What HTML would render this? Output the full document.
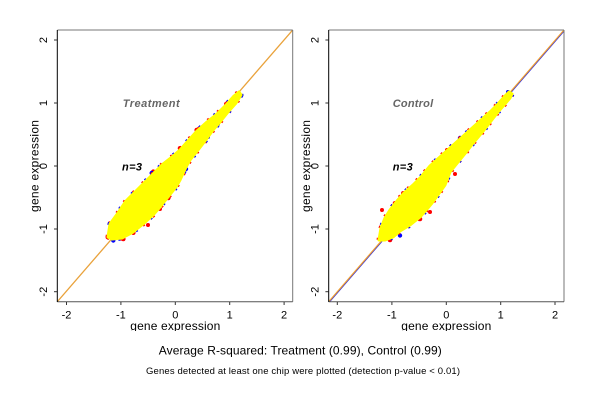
<!DOCTYPE html>
<html>
<head>
<meta charset="utf-8">
<style>
html,body{margin:0;padding:0;background:#fff;}
svg{display:block;}
text{font-family:"Liberation Sans",Arial,sans-serif;}
</style>
</head>
<body>
<svg width="600" height="400" viewBox="0 0 600 400" xmlns="http://www.w3.org/2000/svg">
<defs>
<clipPath id="c1"><rect x="57.5" y="30" width="235" height="271.7"/></clipPath>
<clipPath id="c2"><rect x="328.7" y="30" width="235.3" height="271.7"/></clipPath>
<clipPath id="xl"><rect x="0" y="0" width="600" height="331"/></clipPath>
</defs>
<rect width="600" height="400" fill="#fff"/>

<!-- ===== LEFT PANEL ===== -->
<g clip-path="url(#c1)">
<line x1="57.3" y1="301.7" x2="292.7" y2="30" stroke="#E9A23B" stroke-width="1.3"/>
</g>
<g>
<g fill="#f00">
<circle cx="196.7" cy="130" r="2.3"/><circle cx="180" cy="148.3" r="2.3"/><circle cx="153.3" cy="171.7" r="2.3"/>
<circle cx="168.3" cy="198" r="2.3"/><circle cx="121.7" cy="210" r="2.3"/><circle cx="123.3" cy="239" r="2.3"/>
<circle cx="133.3" cy="232.7" r="2.3"/><circle cx="148" cy="225" r="2"/><circle cx="226" cy="104" r="2"/>
<circle cx="112" cy="225" r="2"/><circle cx="160" cy="209" r="2"/><circle cx="190" cy="144" r="2"/>
</g>
<g fill="#00f">
<circle cx="170" cy="192" r="2.2"/><circle cx="151.7" cy="173" r="2.2"/><circle cx="186" cy="169" r="2.2"/>
<circle cx="113.3" cy="240.5" r="2.2"/><circle cx="208" cy="137" r="2"/><circle cx="236" cy="97" r="2"/>
<circle cx="218" cy="124" r="2"/>
</g>
<polygon fill="none" stroke="#f00" stroke-width="5" stroke-dasharray="2 11" stroke-linejoin="round"
points="108,237 110,224 118,213 126,201 135,192 143,184 153,174 163,164 172,157 180,150 188,141 197,131 207,122 217,114 227,104 234,96 239,92 241,95 236,103 228,112 220,122 213,130 205,141 198,150 190,160 186,167 180,180 176,187 168,197 160,207 153,215 143,224 133,232 122,238 112,239"/>
<polygon fill="none" stroke="#00f" stroke-width="5" stroke-dasharray="2 17" stroke-dashoffset="7" stroke-linejoin="round"
points="108,237 110,224 118,213 126,201 135,192 143,184 153,174 163,164 172,157 180,150 188,141 197,131 207,122 217,114 227,104 234,96 239,92 241,95 236,103 228,112 220,122 213,130 205,141 198,150 190,160 186,167 180,180 176,187 168,197 160,207 153,215 143,224 133,232 122,238 112,239"/>
<polygon fill="#ff0" stroke="#ff0" stroke-width="3" stroke-linejoin="round"
points="108,237 110,224 118,213 126,201 135,192 143,184 153,174 163,164 172,157 180,150 188,141 197,131 207,122 217,114 227,104 234,96 239,92 241,95 236,103 228,112 220,122 213,130 205,141 198,150 190,160 186,167 180,180 176,187 168,197 160,207 153,215 143,224 133,232 122,238 112,239"/>
</g>
<line x1="57.5" y1="30" x2="292.7" y2="30" stroke="#777" stroke-width="1"/>
<line x1="292.7" y1="30" x2="292.7" y2="301.7" stroke="#777" stroke-width="1"/>
<line x1="57.3" y1="301.7" x2="292.7" y2="301.7" stroke="#555" stroke-width="1"/>
<line x1="57.3" y1="30" x2="57.3" y2="302" stroke="#000" stroke-width="1"/>
<g stroke="#333" stroke-width="1">
<line x1="66.5" y1="302" x2="66.5" y2="305"/><line x1="120.9" y1="302" x2="120.9" y2="305"/>
<line x1="175.3" y1="302" x2="175.3" y2="305"/><line x1="229.7" y1="302" x2="229.7" y2="305"/>
<line x1="284.1" y1="302" x2="284.1" y2="305"/>
<line x1="54" y1="40" x2="57" y2="40"/><line x1="54" y1="103" x2="57" y2="103"/>
<line x1="54" y1="166" x2="57" y2="166"/><line x1="54" y1="229" x2="57" y2="229"/>
<line x1="54" y1="291.7" x2="57" y2="291.7"/>
</g>
<g font-size="11" fill="#000" text-anchor="middle">
<text x="66.5" y="318.5">-2</text><text x="120.9" y="318.5">-1</text><text x="175.3" y="318.5">0</text>
<text x="229.7" y="318.5">1</text><text x="284.1" y="318.5">2</text>
<text transform="translate(47,40) rotate(-90)">2</text>
<text transform="translate(47,103) rotate(-90)">1</text>
<text transform="translate(47,166) rotate(-90)">0</text>
<text transform="translate(47,229) rotate(-90)">-1</text>
<text transform="translate(47,291.7) rotate(-90)">-2</text>
</g>
<g font-size="12" fill="#000" text-anchor="middle">
<text x="175.3" y="329.8" textLength="90" clip-path="url(#xl)">gene expression</text>
<text transform="translate(38.5,166) rotate(-90)" textLength="92">gene expression</text>
</g>
<text x="122.7" y="107.2" font-size="11" font-weight="bold" font-style="italic" fill="#666" textLength="57">Treatment</text>
<text x="122" y="170.5" font-size="11" font-weight="bold" font-style="italic" fill="#000" textLength="20">n=3</text>

<!-- ===== RIGHT PANEL ===== -->
<g clip-path="url(#c2)">
<line x1="329.7" y1="301.7" x2="565" y2="30" stroke="#3030e0" stroke-width="1"/>
<line x1="328.7" y1="301.7" x2="564" y2="30" stroke="#F0A030" stroke-width="1.2"/>
</g>
<g>
<g fill="#f00">
<circle cx="438.3" cy="160" r="2.3"/><circle cx="403.3" cy="193.3" r="2.3"/><circle cx="395" cy="203.3" r="2.3"/>
<circle cx="423.3" cy="210" r="2.3"/><circle cx="420" cy="219" r="2.3"/><circle cx="390" cy="240" r="2.3"/>
<circle cx="413" cy="221" r="2.3"/><circle cx="382" cy="210" r="2"/><circle cx="455" cy="174" r="2"/>
<circle cx="430" cy="212" r="2"/><circle cx="447" cy="150" r="2"/>
</g>
<g fill="#00f">
<circle cx="383.3" cy="229" r="2.2"/><circle cx="400" cy="235.5" r="2.2"/><circle cx="460" cy="138" r="2.2"/>
<circle cx="508" cy="92" r="2"/><circle cx="485" cy="118" r="2"/>
</g>
<polygon fill="none" stroke="#f00" stroke-width="5" stroke-dasharray="2 10" stroke-linejoin="round"
points="379,240 381,228 385,218 390,210 397,201 404,193 413,185 421,177 430,166 440,157 450,148 460,139 470,130 480,121 490,112 498,104 505,96 509,92 512,94 510,98 498,112 484,130 474,142 467,151 458,162 450,172 445,185 440,192 432,203 427,209 420,217 410,225 400,231 393,237 385,240"/>
<polygon fill="none" stroke="#00f" stroke-width="5" stroke-dasharray="2 19" stroke-dashoffset="6" stroke-linejoin="round"
points="379,240 381,228 385,218 390,210 397,201 404,193 413,185 421,177 430,166 440,157 450,148 460,139 470,130 480,121 490,112 498,104 505,96 509,92 512,94 510,98 498,112 484,130 474,142 467,151 458,162 450,172 445,185 440,192 432,203 427,209 420,217 410,225 400,231 393,237 385,240"/>
<polygon fill="#ff0" stroke="#ff0" stroke-width="3" stroke-linejoin="round"
points="379,240 381,228 385,218 390,210 397,201 404,193 413,185 421,177 430,166 440,157 450,148 460,139 470,130 480,121 490,112 498,104 505,96 509,92 512,94 510,98 498,112 484,130 474,142 467,151 458,162 450,172 445,185 440,192 432,203 427,209 420,217 410,225 400,231 393,237 385,240"/>
</g>
<line x1="328.7" y1="30" x2="564" y2="30" stroke="#777" stroke-width="1"/>
<line x1="564" y1="30" x2="564" y2="301.7" stroke="#777" stroke-width="1"/>
<line x1="328.7" y1="301.7" x2="564" y2="301.7" stroke="#555" stroke-width="1"/>
<line x1="328.7" y1="30" x2="328.7" y2="302" stroke="#000" stroke-width="1"/>
<g stroke="#333" stroke-width="1">
<line x1="337.3" y1="302" x2="337.3" y2="305"/><line x1="391.9" y1="302" x2="391.9" y2="305"/>
<line x1="446.3" y1="302" x2="446.3" y2="305"/><line x1="500.7" y1="302" x2="500.7" y2="305"/>
<line x1="555" y1="302" x2="555" y2="305"/>
<line x1="325.4" y1="40" x2="328.4" y2="40"/><line x1="325.4" y1="103" x2="328.4" y2="103"/>
<line x1="325.4" y1="166" x2="328.4" y2="166"/><line x1="325.4" y1="229" x2="328.4" y2="229"/>
<line x1="325.4" y1="291.7" x2="328.4" y2="291.7"/>
</g>
<g font-size="11" fill="#000" text-anchor="middle">
<text x="337.3" y="318.5">-2</text><text x="391.9" y="318.5">-1</text><text x="446.3" y="318.5">0</text>
<text x="500.7" y="318.5">1</text><text x="555" y="318.5">2</text>
<text transform="translate(318.4,40) rotate(-90)">2</text>
<text transform="translate(318.4,103) rotate(-90)">1</text>
<text transform="translate(318.4,166) rotate(-90)">0</text>
<text transform="translate(318.4,229) rotate(-90)">-1</text>
<text transform="translate(318.4,291.7) rotate(-90)">-2</text>
</g>
<g font-size="12" fill="#000" text-anchor="middle">
<text x="446.3" y="329.8" textLength="90" clip-path="url(#xl)">gene expression</text>
<text transform="translate(309.9,166) rotate(-90)" textLength="92">gene expression</text>
</g>
<text x="392.7" y="107.2" font-size="11" font-weight="bold" font-style="italic" fill="#666" textLength="40.5">Control</text>
<text x="392.7" y="170.5" font-size="11" font-weight="bold" font-style="italic" fill="#000" textLength="20">n=3</text>

<text x="300.3" y="354.3" font-size="12" fill="#000" text-anchor="middle" textLength="283">Average R-squared: Treatment (0.99), Control (0.99)</text>
<text x="303" y="374" font-size="9.5" fill="#000" text-anchor="middle" textLength="314">Genes detected at least one chip were plotted (detection p-value &lt; 0.01)</text>
</svg>
</body>
</html>
